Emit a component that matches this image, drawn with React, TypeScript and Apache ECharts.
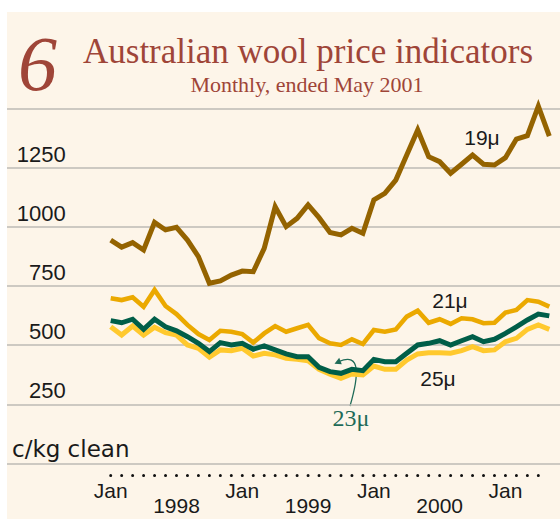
import React, { useEffect, useRef } from 'react';
import * as echarts from 'echarts';

// Monthly, Jan 1998 .. May 2001 (41 months), c/kg clean
const months = [
  'Jan-98', 'Feb-98', 'Mar-98', 'Apr-98', 'May-98', 'Jun-98', 'Jul-98', 'Aug-98', 'Sep-98', 'Oct-98', 'Nov-98', 'Dec-98',
  'Jan-99', 'Feb-99', 'Mar-99', 'Apr-99', 'May-99', 'Jun-99', 'Jul-99', 'Aug-99', 'Sep-99', 'Oct-99', 'Nov-99', 'Dec-99',
  'Jan-00', 'Feb-00', 'Mar-00', 'Apr-00', 'May-00', 'Jun-00', 'Jul-00', 'Aug-00', 'Sep-00', 'Oct-00', 'Nov-00', 'Dec-00',
  'Jan-01', 'Feb-01', 'Mar-01', 'Apr-01', 'May-01',
];

const wool19 = [945, 915, 934, 903, 1020, 988, 999, 945, 875, 762, 772, 797, 814, 811, 910, 1086, 1002, 1037, 1094, 1040, 977, 967, 995, 974, 1115, 1143, 1199, 1305, 1411, 1298, 1277, 1228, 1266, 1305, 1266, 1263, 1294, 1373, 1387, 1512, 1385];
const wool21 = [699, 691, 703, 663, 734, 666, 632, 586, 547, 522, 561, 557, 547, 511, 550, 581, 557, 572, 586, 530, 508, 501, 525, 505, 564, 557, 567, 621, 646, 595, 610, 590, 614, 610, 593, 595, 638, 649, 691, 684, 663];
const wool23 = [604, 595, 610, 567, 610, 578, 561, 536, 508, 473, 511, 501, 508, 483, 497, 480, 463, 451, 451, 406, 388, 381, 398, 392, 440, 430, 430, 466, 501, 508, 519, 501, 519, 536, 515, 525, 550, 578, 607, 632, 624];
const wool25 = [578, 543, 581, 543, 576, 553, 543, 501, 487, 449, 480, 477, 487, 454, 466, 459, 445, 440, 434, 398, 377, 360, 378, 374, 412, 398, 398, 437, 463, 468, 468, 466, 477, 494, 477, 480, 515, 529, 567, 586, 567];

const yTickLabels = [250, 500, 750, 1000, 1250];
const janPositions = [0, 12, 24, 36];
const yearPositions = [6, 18, 30];
const yearLabels = ['1998', '1999', '2000'];

const toPairs = (arr: number[]) => arr.map((v, i) => [i, v]);

const TITLE_COLOR = '#9F4538';
const C19 = '#946300';
const C21 = '#EBA900';
const C23 = '#005E48';
const C25 = '#FFC92E';
const SANS = 'Liberation Sans';

export default function App() {
  const ref = useRef<HTMLDivElement>(null);

  useEffect(() => {
    if (!ref.current) return;
    const chart = echarts.init(ref.current, null, { renderer: 'svg' });
    const X_MIN = -9.457;
    const X_MAX = 40.976;
    const hiddenX = {
      axisLine: { show: false },
      axisTick: { show: false },
      splitLine: { show: false },
    };
    const lineSeries = (name: string, data: number[], color: string, width: number) => ({
      name,
      type: 'line',
      xAxisIndex: 0,
      yAxisIndex: 0,
      data: toPairs(data),
      symbol: 'none',
      clip: false,
      lineStyle: { color, width, join: 'miter', cap: 'butt' },
      emphasis: { disabled: true },
    });

    const option: any = {
      animation: false,
      backgroundColor: 'transparent',
      tooltip: { show: false },
      grid: [
        { left: 7, right: 0, top: 109, bottom: 55.7 },
        { left: 110.7, width: 438.6, top: 474.3, height: 1 },
      ],
      xAxis: [
        {
          type: 'value', gridIndex: 0, position: 'bottom', min: X_MIN, max: X_MAX, ...hiddenX,
          axisLabel: {
            customValues: janPositions,
            formatter: () => 'Jan',
            margin: 17,
            fontFamily: SANS, fontSize: 21, color: '#1a1a1a',
          },
        },
        {
          type: 'value', gridIndex: 0, position: 'bottom', min: X_MIN, max: X_MAX, ...hiddenX,
          axisLabel: {
            customValues: yearPositions,
            formatter: (v: number) => yearLabels[yearPositions.indexOf(Math.round(v))] || '',
            margin: 32,
            fontFamily: SANS, fontSize: 21, color: '#1a1a1a',
          },
        },
        {
          type: 'value', gridIndex: 1, min: 0, max: 40,
          axisLine: {
            show: true, onZero: false,
            lineStyle: { color: '#111', width: 3, type: [0.01, 10.955], cap: 'round' },
          },
          axisTick: { show: false },
          axisLabel: { show: false },
          splitLine: { show: false },
        },
      ],
      yAxis: [
        {
          type: 'value', gridIndex: 0, min: 0, max: 1500, interval: 250,
          axisLine: { show: false },
          axisTick: { show: false },
          splitLine: { show: true, lineStyle: { color: '#BDBAB5', width: 1.5 } },
          axisLabel: {
            inside: true,
            align: 'right',
            verticalAlign: 'bottom',
            margin: 58.7,
            padding: [0, 0, 3, 0],
            fontFamily: SANS, fontSize: 22, color: '#1a1a1a',
            formatter: (v: number) => (yTickLabels.indexOf(v) >= 0 ? String(v) : ''),
          },
        },
        { type: 'value', gridIndex: 1, show: false, min: 0, max: 1 },
      ],
      series: [
        lineSeries('19μ', wool19, C19, 5),
        lineSeries('21μ', wool21, C21, 4.6),
        lineSeries('25μ', wool25, C25, 5),
        lineSeries('23μ', wool23, C23, 5),
      ],
      graphic: [
        { type: 'rect', z: -10, silent: true, shape: { x: 7, y: 12, width: 553, height: 507 }, style: { fill: '#FDF5E9' } },
        {
          type: 'text', x: 18, y: 63, silent: true,
          style: { text: '6', fontFamily: 'Liberation Serif', fontStyle: 'italic', fontSize: 78, fill: TITLE_COLOR, align: 'left', verticalAlign: 'middle' },
        },
        {
          type: 'text', x: 308, y: 51, silent: true,
          style: { text: 'Australian wool price indicators', fontFamily: 'Liberation Serif', fontSize: 35, fill: TITLE_COLOR, align: 'center', verticalAlign: 'middle' },
        },
        {
          type: 'text', x: 307, y: 84, silent: true,
          style: { text: 'Monthly, ended May 2001', fontFamily: 'Liberation Serif', fontSize: 22, fill: TITLE_COLOR, align: 'center', verticalAlign: 'middle' },
        },
        {
          type: 'text', x: 12, y: 449, silent: true,
          style: { text: 'c/kg clean', fontFamily: 'DejaVu Sans', fontSize: 23, fill: '#1a1a1a', align: 'left', verticalAlign: 'middle' },
        },
        {
          type: 'text', x: 482, y: 137, silent: true,
          style: { text: '19μ', fontFamily: SANS, fontSize: 21, fill: '#1a1a1a', align: 'center', verticalAlign: 'middle' },
        },
        {
          type: 'text', x: 450, y: 300, silent: true,
          style: { text: '21μ', fontFamily: SANS, fontSize: 21, fill: '#1a1a1a', align: 'center', verticalAlign: 'middle' },
        },
        {
          type: 'text', x: 438, y: 378, silent: true,
          style: { text: '25μ', fontFamily: SANS, fontSize: 21, fill: '#1a1a1a', align: 'center', verticalAlign: 'middle' },
        },
        {
          type: 'text', x: 351, y: 418, silent: true,
          style: { text: '23μ', fontFamily: 'Liberation Serif', fontSize: 24, fill: '#1F6B58', align: 'center', verticalAlign: 'middle' },
        },
        {
          type: 'bezierCurve', silent: true,
          shape: { x1: 350, y1: 406, cpx1: 359, cpy1: 375, cpx2: 361, cpy2: 352, x2: 339, y2: 361.5 },
          style: { stroke: '#1F6B58', lineWidth: 1.3, fill: 'none' },
        },
        {
          type: 'polygon', silent: true,
          shape: { points: [[334.5, 363.8], [341.8, 364.2], [339.2, 357.8]] },
          style: { fill: '#1F6B58' },
        },
      ],
    };
    chart.setOption(option);
    return () => chart.dispose();
  }, []);

  return (
    <div
      ref={ref}
      data-months={months.length}
      style={{ position: 'absolute', left: 0, top: 0, width: 560, height: 519 }}
    />
  );
}
